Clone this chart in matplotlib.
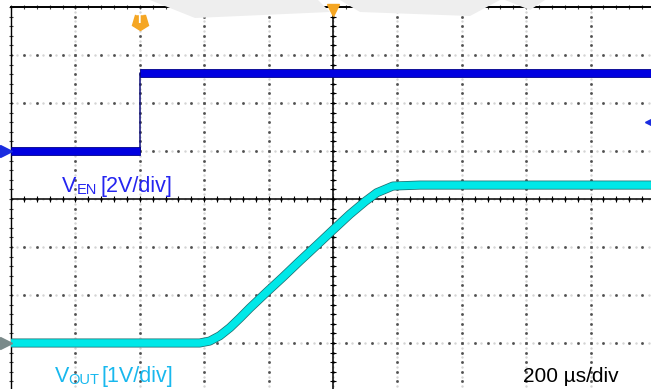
import matplotlib.pyplot as plt
import numpy as np
from matplotlib.patches import Polygon
from matplotlib.markers import MarkerStyle
from matplotlib.transforms import Affine2D

plt.rcParams['font.family'] = ['Liberation Sans', 'DejaVu Sans']

# scope settings
t_per_div = 200          # us/div
ven_scale = 2.0          # V/div
vout_scale = 1.0         # V/div
ven_pos = 1.0            # div, ground marker of EN channel
vout_pos = -3.0          # div, ground marker of OUT channel
trig_level = 1.2         # V on EN

# EN step (us, V)
ven_t = [-400, 0, 0, 1600]
ven_v = [0.0, 0.0, 3.25, 3.25]

# output soft-start ramp (us, V)
vout_t = [-400, 186, 217, 248, 280, 311, 342, 394, 444, 497, 550, 599, 652,
          700, 736, 786, 870, 1600]
vout_v = [0.0, 0.0, 0.04, 0.15, 0.32, 0.52, 0.73, 1.06, 1.37, 1.71, 2.04, 2.35,
          2.68, 2.95, 3.13, 3.27, 3.29, 3.29]

W, H = 651, 389
fig = plt.figure(figsize=(W / 100, H / 100), dpi=100)
fig.patch.set_facecolor('white')

def px(x, y):
    return (x / W, 1 - y / H)

# faint watermark at the top
for pts in [[(150, 0), (318, 0), (330, 12), (195, 18)],
            [(340, 0), (500, 0), (470, 16), (360, 12)],
            [(505, 0), (545, 0), (530, 10)]]:
    fig.patches.append(Polygon([px(*p) for p in pts], closed=True,
                               transform=fig.transFigure, facecolor='#eeeeee',
                               edgecolor='none', zorder=0))

ax = fig.add_axes([11 / W, (H - 391) / H, 644 / W, 384 / H])
ax.set_facecolor('none')
ax.set_xlim(-400, 1600)
ax.set_ylim(-4, 4)
ax.set_xticks([])
ax.set_yticks([])
for s in ['right', 'bottom']:
    ax.spines[s].set_visible(False)
ax.spines['top'].set_linewidth(1.4)
ax.spines['left'].set_linewidth(1.0)

# dotted graticule
xmaj = np.arange(-400, 1601, t_per_div)
ymaj = np.arange(-4, 5, 1)
xmin = np.arange(-400, 1601, t_per_div / 5)
ymin = np.arange(-4, 4.01, 0.2)
xfine = np.arange(-400, 1601, t_per_div / 10)
yfine = np.arange(-4, 4.01, 0.1)
for y in ymaj[1:-1]:
    ax.plot(xfine, np.full_like(xfine, y, dtype=float), ls='none', marker='s',
            ms=0.7, color='#d4d4d4', zorder=1)
    ax.plot(xmin, np.full_like(xmin, y, dtype=float), ls='none', marker='s',
            ms=0.9, color='#505050', zorder=1)
for x in xmaj[1:-1]:
    ax.plot(np.full_like(yfine, x), yfine, ls='none', marker='s',
            ms=0.7, color='#d4d4d4', zorder=1)
    ax.plot(np.full_like(ymin, x), ymin, ls='none', marker='s',
            ms=0.9, color='#505050', zorder=1)
ax.plot(np.full_like(ymin, -400), ymin, ls='none', marker='_', ms=3.5,
        mew=0.8, color='#404040', zorder=1, clip_on=False)
ax.plot(xmin, np.full_like(xmin, 4.0), ls='none', marker='|', ms=3.5,
        mew=0.8, color='#404040', zorder=1, clip_on=False)

# center crosshair with minor ticks
ax.axhline(0, color='black', lw=1.1, zorder=2)
ax.axvline(600, color='black', lw=1.1, zorder=2)
ax.plot(xmin, np.zeros_like(xmin), ls='none', marker='|', ms=5, mew=0.8,
        color='black', zorder=2)
ax.plot(np.full_like(ymin, 600), ymin, ls='none', marker='_', ms=5, mew=0.8,
        color='black', zorder=2)

# EN trace: thin edge, noisy thick levels
ven_y = np.array(ven_v) / ven_scale + ven_pos
ax.plot(ven_t, ven_y, color='#10107a', lw=1.1, zorder=3)
band = 0.085
ax.fill_between(ven_t[:2], ven_y[:2] - band, ven_y[:2] + band,
                color='#0000e0', edgecolor='#00008a', lw=0.6, zorder=4)
ax.fill_between(ven_t[2:], ven_y[2:] - band, ven_y[2:] + band,
                color='#0000e0', edgecolor='#00008a', lw=0.6, zorder=4)

# OUT trace
vout_y = np.array(vout_v) / vout_scale + vout_pos
ax.plot(vout_t, vout_y, color='#1f6f70', lw=6.5, zorder=4,
        solid_capstyle='butt', solid_joinstyle='round')
ax.plot(vout_t, vout_y, color='#00e8e8', lw=5.4, zorder=5,
        solid_capstyle='butt', solid_joinstyle='round')

# channel ground markers on the left edge
ax.plot([-417], [ven_pos], marker='>', ms=8, color='#1a2ce0', clip_on=False,
        zorder=6)
ax.plot([-417], [vout_pos], marker='>', ms=8, color='#7a8a8a', clip_on=False,
        zorder=6)
# trigger level marker on the right edge
ax.plot([1588], [trig_level / ven_scale + ven_pos], marker='<', ms=8,
        color='#1a2ce0', clip_on=False, zorder=6)
# trigger position and horizontal position markers
shield = MarkerStyle('p', transform=Affine2D().rotate_deg(180))
ax.plot([0], [3.69], marker=shield, ms=12, color='#f5a623', zorder=6)
ax.text(0, 3.72, 'T', color='white', fontsize=9, fontweight='bold',
        ha='center', va='center', zorder=7)
ax.plot([600], [3.93], marker='v', ms=8, color='#f5a623', clip_on=False,
        zorder=6)

# channel labels
blue = '#2525f0'
cyan = '#18b8ee'
fig.text(*px(62, 192), 'V', color=blue, fontsize=15.5, va='baseline')
fig.text(*px(77, 194), 'EN', color=blue, fontsize=10.5, va='baseline')
fig.text(*px(100, 192), '[2V/div]', color=blue, fontsize=15.5, va='baseline')
fig.text(*px(55, 382), 'V', color=cyan, fontsize=15.5, va='baseline')
fig.text(*px(68.5, 384), 'OUT', color=cyan, fontsize=10.5, va='baseline')
fig.text(*px(102, 382), '[1V/div]', color=cyan, fontsize=15.5, va='baseline')
fig.text(*px(523, 382), '200 µs/div', color='black', fontsize=15,
         va='baseline')

fig.savefig('out.png', dpi=100)
